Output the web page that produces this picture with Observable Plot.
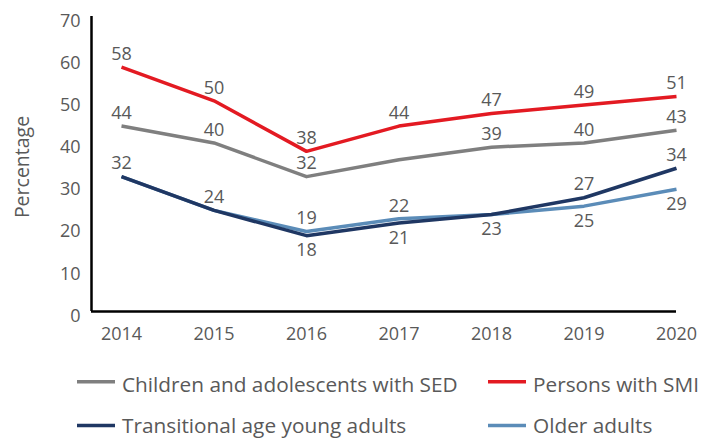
<!DOCTYPE html>
<html><head><meta charset="utf-8">
<script src="https://cdn.jsdelivr.net/npm/d3@7"></script>
<script src="https://cdn.jsdelivr.net/npm/@observablehq/plot@0.6"></script>
<style>
body{margin:0;background:#fff;font-family:"Open Sans",sans-serif;}
#chart svg{display:block}
</style></head><body><div id="chart"></div>
<script>
// ---- data ----
const years = [2014, 2015, 2016, 2017, 2018, 2019, 2020];
const yTicks = [0, 10, 20, 30, 40, 50, 60, 70];
const seriesNames = ["Children and adolescents with SED", "Persons with SMI", "Transitional age young adults", "Older adults"];
const sedValues = [44, 40, 32, 36, 39, 40, 43];
const smiValues = [58, 50, 38, 44, 47, 49, 51];
const tayValues = [32, 24, 18, 21, 23, 27, 34];
const olderValues = [32, 24, 19, 22, 23, 25, 29];
// label side per point: 1 = above, -1 = below, 0 = no label
const sedLabelSide = [1, 1, 1, 0, 1, 1, 1];
const smiLabelSide = [1, 1, 1, 1, 1, 1, 1];
const tayLabelSide = [1, 1, -1, -1, -1, 1, 1];
const olderLabelSide = [0, 0, 1, 1, 0, -1, -1];
const seriesColors = ["#7f7f7f", "#e31a22", "#1f3763", "#5b8cb8"];

// ---- table ----
const valueArrays = [sedValues, smiValues, tayValues, olderValues];
const sideArrays = [sedLabelSide, smiLabelSide, tayLabelSide, olderLabelSide];
const drawOrder = [0, 1, 3, 2];
const rows = [];
for (const s of drawOrder) {
  years.forEach((yr, i) => rows.push({series: seriesNames[s], year: yr, value: valueArrays[s][i], side: sideArrays[s][i]}));
}
const textColor = "#595959";

const plot = Plot.plot({
  width: 717, height: 345,
  marginTop: 16, marginBottom: 34, marginLeft: 91, marginRight: 41,
  style: {fontFamily: "'Open Sans', sans-serif", fontSize: "18px", color: textColor, background: "white"},
  x: {domain: [2014, 2020], insetLeft: 30},
  y: {domain: [0, 70]},
  color: {domain: seriesNames, range: seriesColors},
  marks: [
    Plot.axisY({ticks: yTicks, tickSize: 0, tickPadding: 11, dy: 4.5, label: null, fontSize: 18}),
    Plot.axisX({ticks: years, tickFormat: d => String(d), tickSize: 0, tickPadding: 16, label: null, fontSize: 18}),
    Plot.line(rows, {x: "year", y: "value", z: "series", stroke: "series", strokeWidth: 3.5, strokeLinejoin: "round", strokeLinecap: "butt"}),
    Plot.ruleY([0], {stroke: "#000", strokeWidth: 2.5}),
    Plot.ruleX([2014], {dx: -30, stroke: "#000", strokeWidth: 2.5}),
    Plot.text(rows.filter(d => d.side === 1), {x: "year", y: "value", text: d => String(d.value), dy: -13, fill: textColor, fontSize: 18}),
    Plot.text(rows.filter(d => d.side === -1), {x: "year", y: "value", text: d => String(d.value), dy: 15, fill: textColor, fontSize: 18}),
    Plot.text(["Percentage"], {frameAnchor: "left", textAnchor: "middle", dx: -69, dy: 3, rotate: -90, fill: textColor, fontSize: 19.5})
  ]
});
document.getElementById("chart").appendChild(plot);

// ---- legend (below the plot) ----
const legendItems = [
  {i: 0, x: 77, row: 0}, {i: 1, x: 488, row: 0},
  {i: 2, x: 77, row: 1}, {i: 3, x: 488, row: 1}
];
const lsvg = d3.select("#chart").append("svg").attr("width", 717).attr("height", 93)
  .style("font-family", "'Open Sans', sans-serif").style("font-size", "20.8px");
const rowSwatchY = [36.7, 80.5];
const rowBaseY = [46.5, 87.5];
for (const it of legendItems) {
  lsvg.append("line").attr("x1", it.x).attr("x2", it.x + 38)
    .attr("y1", rowSwatchY[it.row]).attr("y2", rowSwatchY[it.row])
    .attr("stroke", seriesColors[it.i]).attr("stroke-width", 3.5);
  lsvg.append("text").attr("x", it.x + 45).attr("y", rowBaseY[it.row])
    .attr("fill", textColor).text(seriesNames[it.i]);
}
</script></body></html>
